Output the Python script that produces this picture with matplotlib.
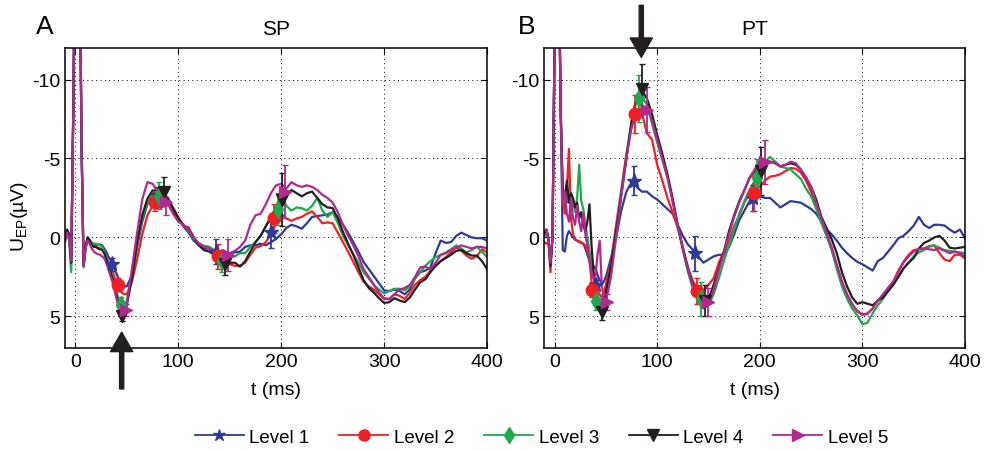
import numpy as np
import matplotlib
matplotlib.use("Agg")
import matplotlib.pyplot as plt
from matplotlib.lines import Line2D

plt.rcParams['font.family'] = ['Liberation Sans', 'DejaVu Sans']
plt.rcParams['axes.unicode_minus'] = False
plt.rcParams['mathtext.fontset'] = 'custom'
plt.rcParams['mathtext.rm'] = 'Liberation Sans'

# time axis (ms): 2 ms steps early, 5 ms steps after 50 ms
time = np.concatenate([np.arange(-10, 50, 2), np.arange(50, 401, 5)])

levels = ['Level 1', 'Level 2', 'Level 3', 'Level 4', 'Level 5']
colors = ['#2b3b97', '#ee2026', '#1eaa4c', '#231f20', '#b1288f']
markers = ['*', 'o', 'd', 'v', '>']

# ---- panel A (SP) ----
sp_level1 = [0.0, -0.4, -0.1, 1.5, -8, -20, -25, -20, -6, 1.7, 0.5, 0.0,
             0.2, 0.4, 0.5, 0.5, 0.45, 0.45, 0.5, 0.7, 0.9, 1.2, 1.4, 1.7, 2.0, 2.3, 2.6, 2.9, 3.05, 3.1,
             3.1, 2.4, 0.6, -1.0, -2.1, -2.7, -2.9, -2.8, -2.5, -1.8,
             -1.2, -0.7, -0.3, 0.2, 0.5, 0.7, 0.7, 0.9, 1.1, 1.1,
             1.0, 0.95, 0.9, 0.6, 0.5, 0.5, 0.4, 0.5, 0.3, 0.1,
             -0.2, -0.6, -0.8, -0.7, -0.55, -0.9, -1.3, -1.35, -1.4, -1.45,
             -1.6, -1.3, -0.8, -0.3, 0.3, 0.9, 1.55, 2.0, 2.45, 2.9,
             3.35, 3.4, 3.3, 3.4, 3.6, 3.3, 2.6, 2.2, 2.1, 1.9,
             1.0, 0.2, 0.35, 0.3, -0.1, -0.3, -0.15, 0.0, 0.05, 0.05,
             0.2]
sp_level2 = [0.1, -0.3, 0.0, 1.7, -8, -20, -25, -20, -6, 1.8, 0.6, 0.1,
             0.2, 0.4, 0.5, 0.6, 0.65, 0.7, 0.75, 0.9, 1.2, 1.5, 1.8, 2.1, 2.5, 2.9, 3.2, 3.4, 3.55, 3.6,
             3.6, 2.8, 1.4, -0.2, -1.4, -2.0, -2.1, -2.2, -2.3, -1.9,
             -1.3, -0.7, -0.65, 0.0, 0.45, 0.55, 0.6, 0.9, 1.4, 1.55,
             1.7, 1.8, 1.8, 1.6, 1.1, 0.65, 0.55, 0.3, -0.2, -0.9,
             -1.5, -1.2, -1.05, -1.2, -1.3, -1.5, -1.65, -1.3, -0.9, -0.95,
             -0.9, -0.3, 0.3, 0.9, 1.55, 2.2, 2.8, 3.1, 3.3, 3.6,
             3.9, 3.9, 3.6, 3.7, 3.9, 3.5, 3.0, 2.7, 2.5, 2.1,
             1.8, 1.5, 1.25, 0.95, 0.6, 0.85, 1.15, 1.35, 1.2, 0.75,
             0.95]
sp_level3 = [0.3, -0.2, 0.2, 2.2, -8, -20, -25, -20, -6, 1.9, 0.6, 0.1,
             0.2, 0.3, 0.4, 0.4, 0.45, 0.5, 0.6, 0.9, 1.2, 1.6, 2.0, 2.5, 2.9, 3.4, 3.9, 4.4, 4.7, 4.5,
             4.0, 2.4, 0.4, -1.2, -2.2, -2.7, -2.8, -2.7, -2.4, -1.7,
             -1.1, -0.8, -0.4, 0.1, 0.35, 0.55, 0.6, 0.8, 1.2, 1.7,
             1.3, 1.2, 1.0, 1.0, 0.6, 0.3, -0.1, -0.7, -1.3, -1.9,
             -2.6, -2.0, -1.7, -1.9, -1.85, -1.7, -2.0, -2.5, -1.7, -1.3,
             -1.6, -0.9, -0.1, 0.5, 1.05, 1.6, 2.2, 2.6, 3.0, 3.3,
             3.55, 3.4, 3.25, 3.25, 3.35, 3.1, 2.6, 2.2, 1.8, 1.5,
             1.25, 1.1, 0.95, 0.75, 0.5, 0.7, 0.95, 0.8, 0.6, 0.9,
             1.25]
sp_level4 = [-0.2, -0.5, -0.2, 1.6, -8, -20, -25, -20, -6, 1.8, 0.6, 0.0,
             0.2, 0.5, 0.6, 0.6, 0.7, 0.75, 0.8, 1.0, 1.35, 1.8, 2.2, 2.6, 3.2, 3.7, 4.3, 4.9, 5.1, 4.8,
             4.3, 2.6, 0.3, -1.4, -2.45, -2.97, -2.97, -2.8, -2.45, -1.8,
             -1.2, -0.8, -0.5, 0.0, 0.5, 0.8, 0.9, 1.1, 1.6, 1.9,
             1.6, 1.6, 1.85, 1.5, 0.9, 0.3, -0.1, -0.7, -1.3, -1.9,
             -2.4, -2.7, -3.0, -2.8, -2.6, -2.8, -2.9, -2.5, -2.1, -1.9,
             -1.85, -1.2, -0.35, 0.4, 1.1, 1.9, 2.7, 3.2, 3.5, 3.85,
             4.15, 4.1, 3.85, 4.0, 4.1, 3.8, 3.3, 2.85, 2.65, 2.2,
             1.8, 1.5, 1.3, 1.1, 0.85, 0.8, 1.0, 1.15, 1.15, 1.5,
             2.0]
sp_level5 = [0.2, -0.3, 0.0, 1.5, -8, -20, -25, -20, -6, 1.8, 0.7, 0.2,
             0.4, 0.7, 0.9, 1.0, 1.05, 1.1, 1.2, 1.3, 1.6, 2.0, 2.4, 2.8, 3.3, 3.9, 4.4, 4.8, 4.85, 4.6,
             4.2, 2.0, -0.3, -2.4, -3.5, -3.4, -2.9, -2.45, -2.1, -1.5,
             -1.0, -0.8, -0.5, 0.0, 0.4, 0.6, 0.7, 0.85, 1.0, 1.1,
             1.0, 0.85, 0.6, 0.2, -0.8, -1.4, -1.5, -2.1, -2.8, -3.3,
             -3.4, -3.1, -3.5, -3.3, -3.2, -3.3, -3.2, -3.0, -2.7, -2.5,
             -2.2, -1.6, -0.8, -0.1, 0.5, 1.2, 2.0, 2.5, 3.0, 3.5,
             3.85, 3.9, 3.6, 3.3, 3.2, 3.0, 2.5, 1.9, 1.85, 2.0,
             1.6, 1.1, 1.0, 0.8, 0.65, 0.5, 0.6, 0.7, 0.6, 0.6,
             0.7]

sp_peak_t = [[36, 80, 137, 190.5], [41, 77, 138.5, 193], [44.5, 81, 142, 197],
             [45, 86, 145.5, 200.5], [49.5, 88.5, 148.5, 203.5]]
sp_peak_v = [[1.7, -2.7, 0.9, -0.35], [3.0, -2.25, 1.2, -1.2], [4.3, -2.65, 1.5, -1.8],
             [5.0, -2.9, 1.7, -2.4], [4.6, -2.25, 1.1, -2.9]]
sp_peak_err = [[0.4, 0.5, 0.8, 1.0], [0.4, 0.6, 0.8, 0.9], [0.5, 0.85, 0.7, 1.0],
               [0.3, 0.9, 0.7, 1.65], [0.4, 0.85, 1.0, 1.7]]

# ---- panel B (PT) ----
pt_level1 = [-0.3, -0.4, 0.2, 1.4, 0.0, -12.5, -25, -18, -8, 0.8, 0.9, -0.1,
             -0.4, -0.2, 0.0, 0.15, 0.2, 0.3, 0.35, 0.4, 0.7, 1.1, 1.5, 1.7, 1.8, 2.0, 2.4, 2.7, 2.9, 2.8,
             2.5, 1.3, 0.0, -1.7, -2.9, -3.5, -3.2, -2.9, -2.9, -2.6,
             -2.4, -2.1, -1.8, -1.5, -0.8, -0.1, 0.45, 0.8, 1.2, 1.6,
             1.4, 1.2, 1.1, 1.1, 0.6, -0.2, -1.1, -1.7, -2.3, -2.8,
             -2.6, -2.5, -2.5, -2.2, -1.9, -2.1, -2.3, -2.25, -2.2, -2.0,
             -1.8, -1.5, -1.0, -0.5, -0.2, 0.2, 0.65, 1.0, 1.3, 1.55,
             1.7, 1.9, 2.1, 1.5, 1.3, 0.9, 0.5, 0.05, -0.1, -0.4,
             -0.75, -1.3, -0.8, -0.6, -0.8, -0.8, -0.75, -0.5, -0.3, -0.5,
             0.05]
pt_level2 = [0.3, 0.4, 0.3, 2.2, 0.0, -12.5, -25, -18, -8, -2.5, -1.5, -3.0,
             -5.6, -1.2, -0.2, 0.1, 0.2, 0.25, 0.3, 0.4, 0.5, 0.9, 1.4, 2.8, 3.3, 3.3, 3.5, 3.6, 3.8, 3.5,
             3.0, 1.5, -0.8, -3.0, -5.3, -7.0, -7.8, -7.9, -6.6, -6.2,
             -4.6, -3.6, -2.5, -1.6, -0.6, 0.6, 1.9, 2.8, 3.3, 3.4,
             3.0, 2.6, 1.6, 0.9, 0.2, -0.7, -1.4, -2.2, -2.8, -3.1,
             -3.2, -3.6, -3.85, -3.9, -4.0, -4.2, -4.4, -4.35, -4.1, -3.6,
             -2.9, -2.0, -1.1, -0.2, 0.8, 1.8, 2.8, 3.6, 4.3, 4.65,
             4.9, 4.8, 4.5, 4.0, 3.7, 3.2, 2.8, 2.1, 1.55, 1.1,
             0.8, 0.75, 0.7, 0.55, 0.5, 1.0, 1.4, 1.5, 1.1, 1.1,
             1.33]
pt_level3 = [0.0, -0.5, 0.0, 1.7, 0.0, -12.5, -25, -18, -8, -2.0, -2.8, -2.2,
             -3.0, -1.5, -2.4, -1.6, -2.5, -4.6, -2.3, -1.8, -0.9, 0.0, 0.9, 1.7, 2.5, 3.3, 3.9, 4.2, 4.1, 3.9,
             3.6, 1.8, -0.5, -2.8, -5.2, -7.4, -8.6, -8.9, -8.4, -7.2,
             -6.0, -4.9, -3.8, -2.3, -0.7, 0.8, 2.2, 3.3, 4.1, 4.5,
             4.3, 3.6, 2.6, 1.5, 0.5, -0.5, -1.5, -2.3, -3.0, -3.6,
             -4.2, -4.8, -5.1, -4.8, -4.5, -4.4, -4.3, -4.0, -3.7, -3.1,
             -2.6, -1.8, -0.9, -0.1, 0.8, 2.0, 3.1, 3.9, 4.5, 4.95,
             5.5, 5.4, 4.8, 4.3, 3.9, 3.4, 3.0, 2.5, 1.97, 1.6,
             1.2, 0.95, 0.8, 0.6, 0.5, 0.65, 0.8, 0.85, 0.9, 0.95,
             1.0]
pt_level4 = [-0.3, -0.5, 0.0, 1.8, 0.0, -12.5, -25, -18, -8, -3.0, -2.6, -3.6,
             -2.2, -2.8, -2.5, -1.9, -2.2, -1.2, -1.6, -0.8, -0.4, -1.0, -2.1, 0.5, 2.2, 3.0, 3.9, 4.5, 4.9, 4.5,
             3.5, 1.8, -0.4, -2.7, -5.0, -7.3, -9.0, -9.3, -8.8, -7.8,
             -6.5, -5.3, -4.0, -2.5, -0.8, 0.7, 2.0, 3.0, 3.9, 4.4,
             3.9, 3.0, 2.0, 0.9, -0.4, -1.4, -2.3, -3.0, -3.75, -4.2,
             -4.6, -4.7, -4.8, -4.7, -4.5, -4.6, -4.7, -4.6, -4.3, -3.8,
             -3.2, -2.4, -1.3, -0.6, 0.1, 1.0, 2.2, 3.1, 3.8, 4.2,
             4.1, 4.2, 4.3, 4.0, 3.8, 3.4, 3.0, 2.5, 1.97, 1.6,
             1.3, 0.7, 0.35, 0.2, 0.0, -0.1, 0.2, 0.65, 0.7, 0.65,
             0.6]
pt_level5 = [-0.4, -0.5, 0.1, 1.6, 0.0, -12.5, -25, -18, -8, -2.0, -2.9, -1.5,
             -1.0, -2.5, -1.2, -0.8, -2.0, -1.0, -0.4, -1.5, -0.2, 0.5, 1.5, 2.2, 2.6, 2.4, 1.0, 0.2, 3.0, 3.9,
             4.1, 2.5, 0.0, -2.6, -5.0, -7.0, -7.9, -8.2, -8.2, -7.4,
             -6.2, -5.0, -3.8, -2.3, -0.8, 0.7, 2.0, 3.1, 3.9, 4.3,
             4.2, 3.3, 2.1, 1.0, -0.2, -1.3, -2.2, -3.0, -3.8, -4.3,
             -4.9, -4.85, -4.8, -4.7, -4.5, -4.6, -4.8, -4.7, -4.3, -3.8,
             -3.2, -2.2, -1.2, -0.3, 0.6, 1.7, 2.8, 3.6, 4.2, 4.7,
             4.9, 4.85, 4.5, 4.0, 3.6, 3.2, 2.8, 2.2, 1.6, 1.2,
             0.9, 0.75, 0.7, 0.75, 0.8, 0.7, 0.85, 1.0, 0.9, 1.0,
             1.23]

pt_peak_t = [[40, 77, 137, 193], [36.5, 78.5, 138.5, 194], [40, 82, 143, 197],
             [46, 85, 146.5, 201], [51, 90, 150, 205]]
pt_peak_v = [[3.0, -3.6, 1.0, -2.5], [3.3, -7.8, 3.4, -2.8], [4.0, -8.8, 3.9, -3.75],
             [4.7, -9.4, 4.0, -4.2], [4.1, -8.1, 4.1, -4.8]]
pt_peak_err = [[0.3, 0.9, 1.1, 0.8], [0.5, 1.2, 0.8, 1.1], [0.6, 1.5, 1.1, 1.2],
               [0.5, 1.6, 1.0, 1.5], [0.5, 1.4, 0.9, 1.4]]


def draw_panel(ax, curves, pk_t, pk_v, pk_err, title):
    for y, c in zip(curves, colors):
        ax.plot(time, y, color=c, lw=1.6)
    for i in range(5):
        ms = 11 if markers[i] == '*' else 9
        ax.errorbar(pk_t[i], pk_v[i], yerr=pk_err[i], fmt=markers[i], color=colors[i],
                    ms=ms, elinewidth=1.3, capsize=2, zorder=3)
    ax.set_xlim(-10, 400)
    ax.set_ylim(7, -12)
    ax.set_xticks([0, 100, 200, 300, 400])
    ax.set_yticks([-10, -5, 0, 5])
    ax.grid(True, color='k', linestyle=(0, (1, 3.5)), lw=0.7)
    ax.tick_params(direction='in', top=True, right=True, labelsize=14, length=4)
    ax.set_xlabel('t (ms)', fontsize=14, labelpad=8)
    ax.set_title(title, fontsize=15, pad=10)
    for s in ax.spines.values():
        s.set_linewidth(1.1)


fig = plt.figure(figsize=(9.9, 4.52), dpi=100)
axA = fig.add_axes([0.0657, 0.228, 0.4263, 0.6637])
axB = fig.add_axes([0.5498, 0.228, 0.425, 0.6637])

draw_panel(axA, [sp_level1, sp_level2, sp_level3, sp_level4, sp_level5],
           sp_peak_t, sp_peak_v, sp_peak_err, 'SP')
draw_panel(axB, [pt_level1, pt_level2, pt_level3, pt_level4, pt_level5],
           pt_peak_t, pt_peak_v, pt_peak_err, 'PT')

axA.set_ylabel('U$_{\\mathrm{EP}}$(µV)', fontsize=14)
axA.yaxis.set_label_coords(-0.082, 0.44)

arrow = dict(arrowstyle='simple,head_length=1.4,head_width=1.6,tail_width=0.3',
             mutation_scale=10, color='#231f20', shrinkA=0, shrinkB=0)
axA.annotate('', xy=(45, 6.0), xytext=(45, 9.6), arrowprops=arrow, annotation_clip=False)
axB.annotate('', xy=(84.5, -11.4), xytext=(84.5, -14.7), arrowprops=arrow, annotation_clip=False)

fig.text(45 / 990, 1 - 27 / 452, 'A', fontsize=19, ha='center', va='center')
fig.text(527 / 990, 1 - 27 / 452, 'B', fontsize=19, ha='center', va='center')

handles = [Line2D([], [], color=c, marker=m, lw=1.3, ms=9 if m == '*' else 8)
           for c, m in zip(colors, markers)]
fig.legend(handles, levels, loc='center', bbox_to_anchor=(0.547, 0.031), ncol=5,
           frameon=False, fontsize=13.5, handlelength=2.6, handletextpad=0.3,
           columnspacing=1.6)

fig.savefig('out.png', dpi=100)
